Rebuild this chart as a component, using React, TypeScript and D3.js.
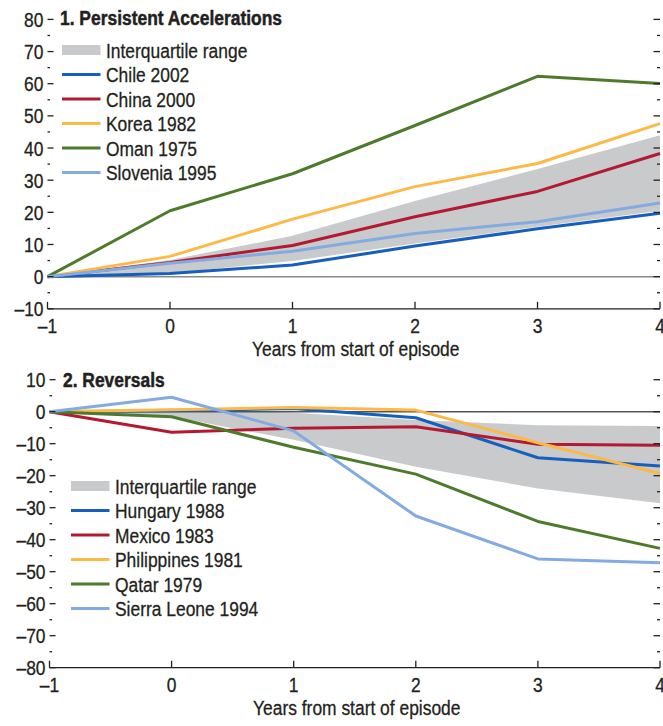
import React from "react";
import * as d3 from "d3";

const years = [-1, 0, 1, 2, 3, 4];

// Panel 1: Persistent Accelerations
const accelIqrLow = [0, 1, 4.9, 10.3, 15.5, 20.5];
const accelIqrHigh = [0, 5.2, 12.7, 23.5, 33.5, 44];
const chile2002 = [0, 1, 3.6, 9.5, 14.9, 19.7];
const china2000 = [0, 4.4, 9.7, 18.6, 26.5, 38.3];
const korea1982 = [0, 6.3, 17.9, 28, 35.2, 47.6];
const oman1975 = [0, 20.5, 32, 47, 62.3, 60.1];
const slovenia1995 = [0, 4.2, 7.9, 13.4, 17.1, 22.9];

// Panel 2: Reversals
const revIqrLow = [0, -1.5, -8.8, -17.2, -24, -28.6];
const revIqrHigh = [0, 1, -0.3, -2.6, -4.2, -4.5];
const hungary1988 = [0, 0.3, 1, -1.9, -14.4, -17];
const mexico1983 = [0, -6.4, -5.2, -4.7, -10.2, -10.5];
const philippines1981 = [0, 0.6, 1.3, 0.5, -9.7, -19.3];
const qatar1979 = [0, -1.6, -11.1, -19.5, -34.3, -42.7];
const sierraLeone1994 = [0, 4.5, -6, -32.6, -46, -47.2];

const accelNames = ["Chile 2002", "China 2000", "Korea 1982", "Oman 1975", "Slovenia 1995"];
const revNames = ["Hungary 1988", "Mexico 1983", "Philippines 1981", "Qatar 1979", "Sierra Leone 1994"];
const colors = ["#165fbd", "#b31a31", "#fcb947", "#4e7b2b", "#84abe0"];
const iqrLabel = "Interquartile range";
const xTitle = "Years from start of episode";

const FONT = "'Liberation Sans', Arial, sans-serif";
const FS = 21;
const SX = 0.83;
const fmt = (v: number) => (v < 0 ? "\u2013" + Math.abs(v) : String(v));

function T(props: {
  x: number;
  y: number;
  anchor?: "start" | "middle" | "end";
  bold?: boolean;
  dy?: string;
  children: React.ReactNode;
}) {
  return (
    <text
      transform={`translate(${props.x},${props.y}) scale(${SX},1)`}
      textAnchor={props.anchor || "start"}
      dy={props.dy}
      fontSize={FS}
      fontWeight={props.bold ? "bold" : "normal"}
      fill="#231f20"
      stroke="#231f20"
      strokeWidth={props.bold ? 0.5 : 0.3}
    >
      {props.children}
    </text>
  );
}

type PanelProps = {
  title: string;
  xRange: [number, number];
  yTop: number;
  yBottom: number;
  domain: [number, number];
  iqrLow: number[];
  iqrHigh: number[];
  series: number[][];
  names: string[];
  legendX: number;
  legendY: number;
  titleX: number;
  titleY: number;
  zeroColor: string;
};

function Panel(p: PanelProps) {
  const x = d3.scaleLinear().domain([-1, 4]).range(p.xRange);
  const y = d3.scaleLinear().domain(p.domain).range([p.yBottom, p.yTop]);
  const majors = d3.range(p.domain[0], p.domain[1] + 0.1, 10);
  const minors = d3.range(p.domain[0] + 5, p.domain[1], 10);
  const area = d3
    .area<number>()
    .x((_, i) => x(years[i]))
    .y0((_, i) => y(p.iqrLow[i]))
    .y1((_, i) => y(p.iqrHigh[i]));
  const line = d3
    .line<number>()
    .x((_, i) => x(years[i]))
    .y((d) => y(d));
  const [x0, x1] = p.xRange;
  const rowH = 24.5;
  return (
    <g>
      <path d={area(years.map(() => 0)) as string} fill="#c9cacc" />
      <line x1={x0} x2={x1} y1={y(0)} y2={y(0)} stroke={p.zeroColor} strokeWidth={1.5} />
      {p.series.map((s, i) => (
        <path key={i} d={line(s) as string} fill="none" stroke={colors[i]} strokeWidth={3} strokeLinejoin="round" />
      ))}
      {majors.map((v) => (
        <g key={"M" + v}>
          <line x1={x0} x2={x0 + 6} y1={y(v)} y2={y(v)} stroke="#231f20" strokeWidth={1.3} />
          <line x1={x1 - 6.5} x2={x1} y1={y(v)} y2={y(v)} stroke="#231f20" strokeWidth={1.3} />
          <T x={x0 - 4} y={y(v)} dy="0.36em" anchor="end">
            {fmt(v)}
          </T>
        </g>
      ))}
      {minors.map((v) => (
        <g key={"m" + v}>
          <line x1={x0} x2={x0 + 2.5} y1={y(v)} y2={y(v)} stroke="#231f20" strokeWidth={1.3} />
          <line x1={x1 - 3} x2={x1} y1={y(v)} y2={y(v)} stroke="#231f20" strokeWidth={1.3} />
        </g>
      ))}
      <line x1={x0} x2={x1} y1={p.yBottom} y2={p.yBottom} stroke="#231f20" strokeWidth={1.3} />
      {years.map((v) => (
        <g key={"x" + v}>
          <line x1={x(v)} x2={x(v)} y1={p.yBottom} y2={p.yBottom - 7} stroke="#231f20" strokeWidth={1.3} />
          <T x={x(v)} y={p.yBottom + 24.5} anchor="middle">
            {fmt(v)}
          </T>
        </g>
      ))}
      <T x={(x0 + x1) / 2 + 2} y={p.yBottom + 47} anchor="middle">
        {xTitle}
      </T>
      <T x={p.titleX} y={p.titleY} bold>
        {p.title}
      </T>
      <g transform={`translate(${p.legendX},${p.legendY})`}>
        <rect x={0} y={-5} width={38.5} height={10} fill="#c9cacc" />
        <T x={44} y={0} dy="0.36em">
          {iqrLabel}
        </T>
        {p.names.map((n, i) => (
          <g key={n} transform={`translate(0,${(i + 1) * rowH})`}>
            <line x1={0} x2={38.5} y1={0} y2={0} stroke={colors[i]} strokeWidth={3} />
            <T x={44} y={0} dy="0.36em">
              {n}
            </T>
          </g>
        ))}
      </g>
    </g>
  );
}

export default function App() {
  return (
    <svg
      width={663}
      height={726}
      style={{ position: "absolute", left: 0, top: 0, fontFamily: FONT }}
    >
      <rect width={663} height={726} fill="#fff" />
      <Panel
        title="1. Persistent Accelerations"
        xRange={[47.5, 660]}
        yTop={19.4}
        yBottom={308.8}
        domain={[-10, 80]}
        iqrLow={accelIqrLow}
        iqrHigh={accelIqrHigh}
        series={[chile2002, china2000, korea1982, oman1975, slovenia1995]}
        names={accelNames}
        legendX={62}
        legendY={50}
        titleX={60}
        titleY={25}
        zeroColor="#8a8a8a"
      />
      <Panel
        title="2. Reversals"
        xRange={[49.5, 660]}
        yTop={379.7}
        yBottom={667.7}
        domain={[-80, 10]}
        iqrLow={revIqrLow}
        iqrHigh={revIqrHigh}
        series={[hungary1988, mexico1983, philippines1981, qatar1979, sierraLeone1994]}
        names={revNames}
        legendX={71}
        legendY={486}
        titleX={63}
        titleY={387}
        zeroColor="#555"
      />
    </svg>
  );
}
